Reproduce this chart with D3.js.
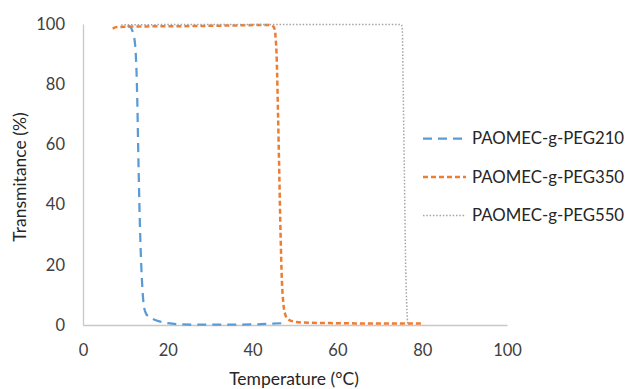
<!DOCTYPE html>
<html>
<head>
<meta charset="utf-8">
<script src="https://cdn.jsdelivr.net/npm/d3@7"></script>
<style>
  body { margin: 0; background: #fff; }
  text { font-family: Lato, "Open Sans", sans-serif; }
</style>
</head>
<body>
<svg id="chart" width="628" height="389"></svg>
<script>
// series names
const names = ["PAOMEC-g-PEG210", "PAOMEC-g-PEG350", "PAOMEC-g-PEG550"];

// [temperature, transmittance]
const peg210 = [[10.5,99.4],[11.2,99],[11.8,97],[12.3,93],[12.6,85],[12.8,75],[13.0,60],[13.3,40],
  [13.6,25],[13.9,15],[14.3,7],[14.8,4],[15.5,2.8],[16.5,2],[18,1.2],[20,0.6],[23,0.2],[30,0.1],
  [40,0.2],[44,0.4],[47,0.6]];
const peg350 = [[7,98.5],[8,99],[15,99.2],[25,99.3],[35,99.5],[44,99.7],[45,99],[45.4,96],[45.7,88],
  [46,70],[46.3,50],[46.6,30],[46.9,15],[47.2,8],[47.6,4],[48.3,2],[49.5,1.2],[52,0.8],[60,0.6],
  [70,0.5],[80,0.5]];
const peg550 = [[9,99.7],[20,99.8],[40,99.8],[60,99.8],[75,99.8],[75.3,99],[75.5,80],[75.8,50],
  [76.1,20],[76.4,5],[76.6,0.5],[77,0.3]];

const xTicks = [0, 20, 40, 60, 80, 100];
const yTicks = [0, 20, 40, 60, 80, 100];

const series = [
  { name: names[0], values: peg210, color: "#5b9bd5", dash: "9,6", width: 2.25 },
  { name: names[1], values: peg350, color: "#ed7d31", dash: "5,3", width: 2.5 },
  { name: names[2], values: peg550, color: "#a5a5a5", dash: "1.5,1.8", width: 1.5 }
];

const svg = d3.select("#chart");

const x = d3.scaleLinear().domain([0, 100]).range([83, 507]);
const y = d3.scaleLinear().domain([0, 100]).range([325, 24]);

// y axis
const yAxis = svg.append("g")
  .attr("transform", "translate(83,0)")
  .call(d3.axisLeft(y).tickValues(yTicks).tickSize(0).tickPadding(18));
// x axis
const xAxis = svg.append("g")
  .attr("transform", "translate(0,325)")
  .call(d3.axisBottom(x).tickValues(xTicks).tickSize(0).tickPadding(19));

[xAxis, yAxis].forEach(function(g) {
  g.select(".domain").attr("stroke", "#c8c8c8").attr("stroke-width", 1.3);
  g.selectAll("text")
    .attr("fill", "#404040")
    .style("font-size", "16.5px");
});

// axis titles
svg.append("text")
  .attr("transform", "translate(20,177) rotate(-90)")
  .attr("text-anchor", "middle")
  .attr("dy", "0.35em")
  .attr("fill", "#262626")
  .style("font-size", "17.5px")
  .text("Transmitance (%)");

svg.append("text")
  .attr("x", 294)
  .attr("y", 385)
  .attr("text-anchor", "middle")
  .attr("fill", "#262626")
  .style("font-size", "17.5px")
  .text("Temperature (°C)");

const line = d3.line()
  .x(function(d) { return x(d[0]); })
  .y(function(d) { return y(d[1]); })
  .curve(d3.curveMonotoneX);

svg.selectAll(".series")
  .data(series)
  .enter().append("path")
  .attr("class", "series")
  .attr("fill", "none")
  .attr("stroke", function(d) { return d.color; })
  .attr("stroke-width", function(d) { return d.width; })
  .attr("stroke-dasharray", function(d) { return d.dash; })
  .attr("d", function(d) { return line(d.values); });

// legend
const legend = svg.selectAll(".legend")
  .data(series)
  .enter().append("g")
  .attr("class", "legend")
  .attr("transform", function(d, i) { return "translate(423," + (138.5 + i * 38.5) + ")"; });

legend.append("line")
  .attr("x1", 0).attr("x2", 43)
  .attr("stroke", function(d) { return d.color; })
  .attr("stroke-width", function(d) { return d.width; })
  .attr("stroke-dasharray", function(d) { return d.dash; });

legend.append("text")
  .attr("x", 49)
  .attr("dy", "0.35em")
  .attr("fill", "#262626")
  .style("font-size", "16.8px")
  .text(function(d) { return d.name; });
</script>
</body>
</html>
